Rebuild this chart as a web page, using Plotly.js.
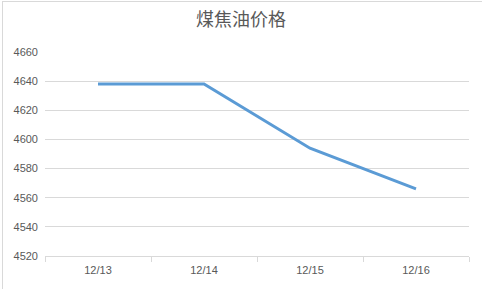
<!DOCTYPE html>
<html>
<head>
<meta charset="utf-8">
<script src="https://cdn.plot.ly/plotly-3.0.1.min.js"></script>
<style>
  html, body { margin: 0; padding: 0; background: #fff; }
  #wrap { position: relative; width: 482px; height: 289px; overflow: hidden; }
  #chart { width: 482px; height: 289px; }
  #frame { position: absolute; left: 2px; top: 1px; width: 490px; height: 300px;
           border-left: 1px solid #d9d9d9; border-top: 1px solid #d9d9d9; pointer-events: none; }
</style>
</head>
<body>
<div id="wrap">
  <div id="chart"></div>
  <div id="frame"></div>
</div>
<script>
// Coal tar price by date
const dates = ["12/13", "12/14", "12/15", "12/16"];
const prices = [4638, 4638, 4594, 4566];
const yTicks = [4520, 4540, 4560, 4580, 4600, 4620, 4640, 4660];
const chartTitle = "煤焦油价格";

const fontFamily = "'Liberation Sans', 'Noto Sans CJK SC', sans-serif";

Plotly.newPlot("chart", [{
  type: "scatter",
  mode: "lines",
  x: dates,
  y: prices,
  line: { color: "#5b9bd5", width: 3 },
  hoverinfo: "x+y"
}], {
  width: 482,
  height: 289,
  margin: { l: 45, r: 13, t: 52, b: 33 },
  paper_bgcolor: "#ffffff",
  plot_bgcolor: "#ffffff",
  showlegend: false,
  title: {
    text: chartTitle,
    font: { family: "'Noto Sans CJK SC', sans-serif", size: 18, color: "#595959" },
    x: 0.5, xanchor: "center",
    yref: "container", y: 1 - 20 / 289, yanchor: "middle"
  },
  xaxis: {
    type: "category",
    range: [-0.5, dates.length - 0.5],
    tickson: "boundaries",
    ticks: "outside",
    ticklen: 5,
    tickcolor: "#d9d9d9",
    tickwidth: 1,
    showline: true,
    linecolor: "#d9d9d9",
    linewidth: 1,
    showgrid: false,
    zeroline: false,
    tickfont: { family: fontFamily, size: 11, color: "#595959" },
    ticklabelstandoff: 4
  },
  yaxis: {
    range: [4520, 4660],
    tickvals: yTicks,
    ticktext: yTicks.map(String),
    showgrid: true,
    gridcolor: "#d9d9d9",
    gridwidth: 1,
    zeroline: false,
    showline: false,
    ticks: "",
    tickfont: { family: fontFamily, size: 11, color: "#595959" },
    ticklabelstandoff: 6
  }
}, { displayModeBar: false, staticPlot: true });
</script>
</body>
</html>
